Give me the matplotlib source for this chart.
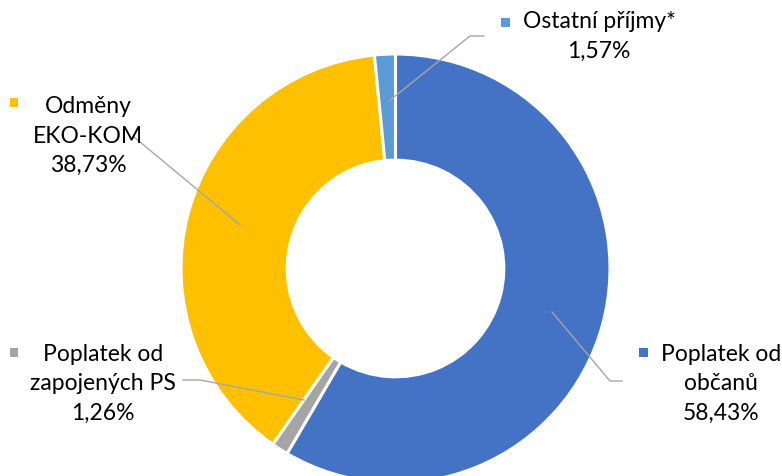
import matplotlib
matplotlib.use("Agg")
import matplotlib.pyplot as plt
from matplotlib.patches import Rectangle

labels = ["Poplatek od\nobčanů", "Poplatek od\nzapojených PS", "Odměny\nEKO-KOM", "Ostatní příjmy*"]
values = [58.43, 1.26, 38.73, 1.57]
pct_labels = ["58,43%", "1,26%", "38,73%", "1,57%"]
colors = ["#4472C4", "#A5A5A5", "#FFC000", "#5B9BD5"]

W, H = 782, 476
CX, CY, R = 395.5, 268.5, 214.5

fig = plt.figure(figsize=(W / 100, H / 100), dpi=100)
ax = fig.add_axes([0, 0, 1, 1])

ax.pie(values, colors=colors, startangle=90, counterclock=False, radius=1.0,
       wedgeprops=dict(width=0.495, edgecolor="white", linewidth=2.2))

ax.set_xlim(-CX / R, (W - CX) / R)
ax.set_ylim(-(H - CY) / R, CY / R)
ax.set_aspect("equal")
ax.axis("off")


def px(x, y):
    return (x - CX) / R, (CY - y) / R


font = "Lato"
fs = 16.5
lc = "#A6A6A6"

# label layout: (text center x, first line center y, marker center, leader points)
layout = [
    (721, 355, (644, 352), [(552, 312), (610, 381), (622, 381)]),
    (103, 355, (14, 352), [(304, 400), (200, 380), (183, 380)]),
    (88, 107, (14, 102), [(240, 225), (134, 137)]),
    (599, 22, (506, 22), [(389, 101), (470, 36), (484, 36)]),
]

for lab, pct, col, (tx, ty, (mx, my), pts) in zip(labels, pct_labels, colors, layout):
    txt = lab + "\n" + pct
    x0, y0 = px(tx, ty - 11)
    ax.text(x0, y0, txt, ha="center", va="top", fontsize=fs, family=font,
            linespacing=1.5, color="#000000")
    sx, sy = px(mx - 4.5, my + 4.5)
    ax.add_patch(Rectangle((sx, sy), 9 / R, 9 / R, facecolor=col, edgecolor="none"))
    xs, ys = zip(*[px(a, b) for a, b in pts])
    ax.plot(xs, ys, color=lc, lw=1.0)

fig.savefig("out.png", dpi=100)
